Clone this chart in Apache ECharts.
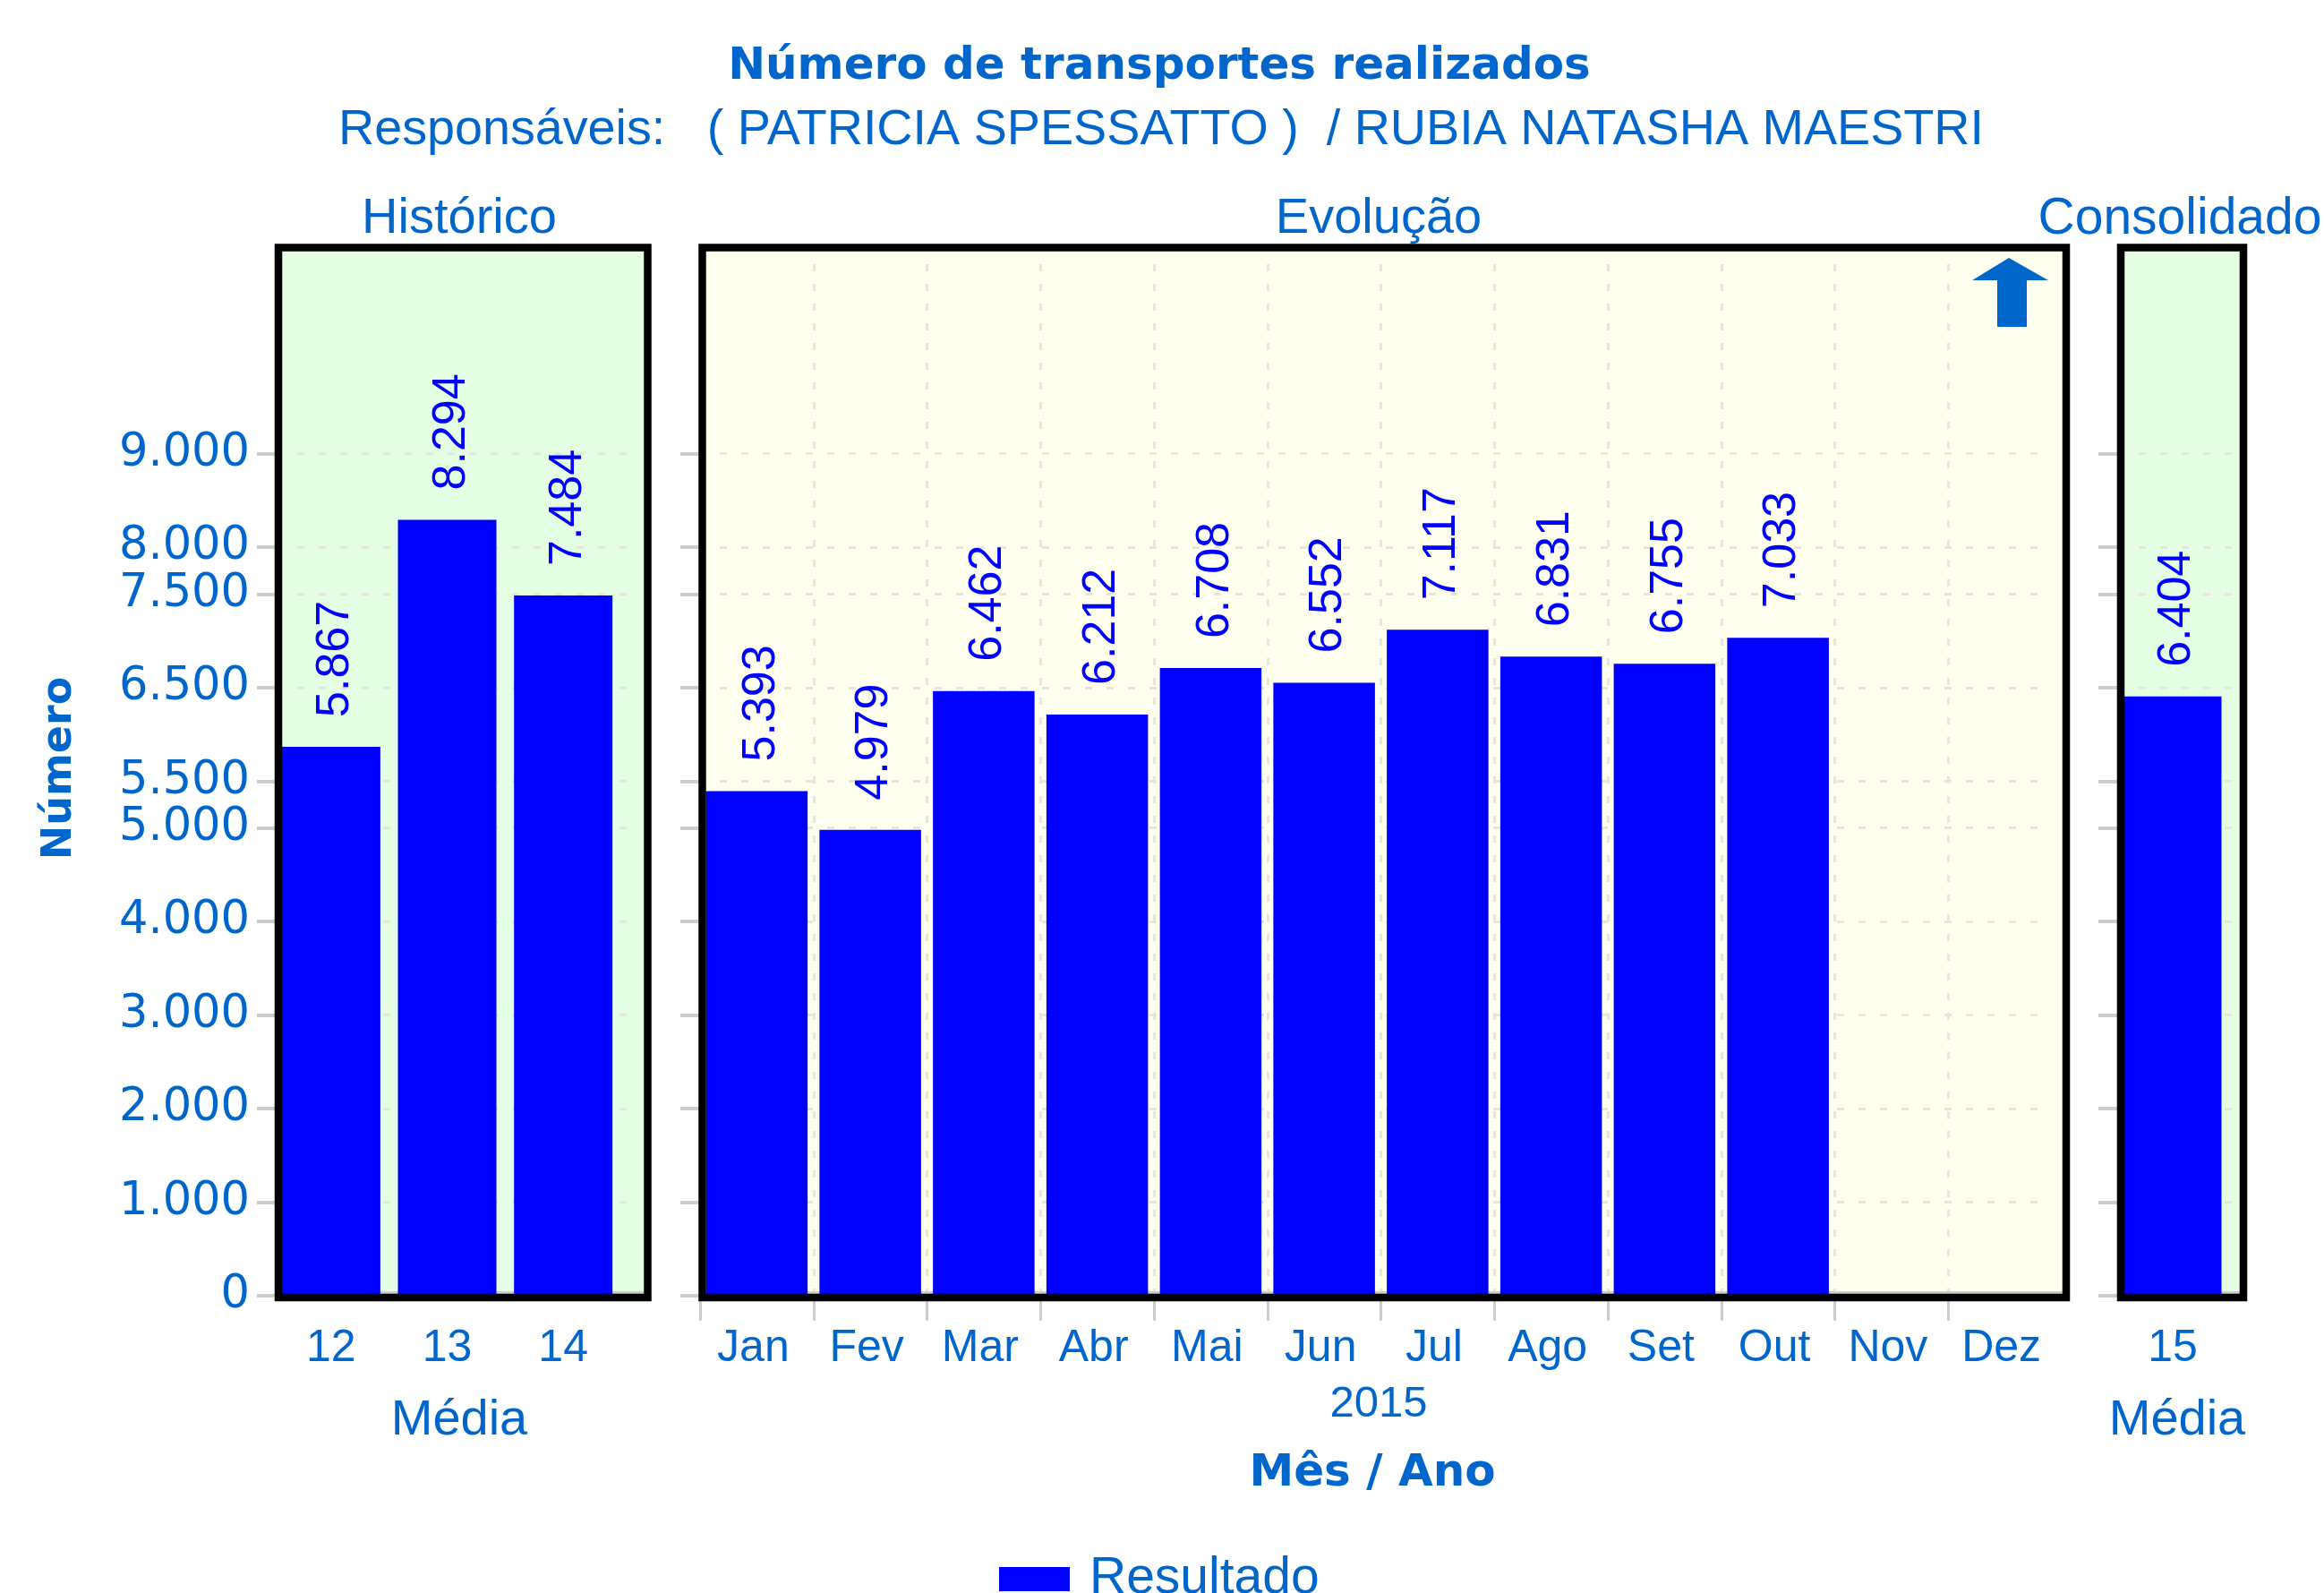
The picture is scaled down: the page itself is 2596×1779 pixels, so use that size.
<!DOCTYPE html>
<html>
<head>
<meta charset="utf-8">
<title>Número de transportes realizados</title>
<script src="https://cdn.jsdelivr.net/npm/echarts@6/dist/echarts.min.js"></script>
<style>
    html, body { margin: 0; padding: 0; background: #fff; }
    #chart { width: 2596px; height: 1779px; }
</style>
</head>
<body>
<div id="chart"></div>
<script>
    // valores
    const histCategories = ['12', '13', '14'];
    const histValues = [5867, 8294, 7484];
    const monthCategories = ['Jan', 'Fev', 'Mar', 'Abr', 'Mai', 'Jun', 'Jul', 'Ago', 'Set', 'Out', 'Nov', 'Dez'];
    const monthValues = [5393, 4979, 6462, 6212, 6708, 6552, 7117, 6831, 6755, 7033, null, null];
    const consCategories = ['15'];
    const consValues = [6404];
    const yTicks = [0, 1000, 2000, 3000, 4000, 5000, 5500, 6500, 7500, 8000, 9000];

    const BLUE = '#0066CC';
    const BAR = '#0000FF';
    const SANS = '"Liberation Sans", Arial, sans-serif';
    const WIDE = '"DejaVu Sans", sans-serif';
    const TOP = 295, ZERO = 1446.7, Y_MAX = 11027;
    const W = 2596, H = 1779;

    // painéis: grade principal, linhas tracejadas e moldura
    const panels = [
        { left: 305, right: 694, lineL: 332, lineR: 703, frameL: 311, frameR: 723.5, bg: '#E5FFE5', tick: 21, off: -3, barW: 110, cats: histCategories, vals: histValues },
        { left: 782, right: 2303, lineL: 804, lineR: 2291, frameL: 784.5, frameR: 2308, bg: '#FFFFF0', tick: 22, off: 0, barW: 113.5, cats: monthCategories, vals: monthValues },
        { left: 2365, right: 2489, lineL: 2389, lineR: 2495, frameL: 2369, frameR: 2506, bg: '#E5FFE5', tick: 21, off: 0, barW: 109, cats: consCategories, vals: consValues }
    ];

    function fmt(v) {
        return String(v).replace(/\B(?=(\d{3})+$)/g, '.');
    }

    function label(text, x, y, size, font, bold) {
        return {
            text: text, left: x, top: y, textAlign: 'center', textVerticalAlign: 'middle',
            textStyle: { color: BLUE, fontFamily: font, fontSize: size, fontWeight: bold ? 'bold' : 'normal' }
        };
    }

    let grids = [], xAxes = [], yAxes = [], series = [], shapes = [];

    panels.forEach((p, i) => {
        grids.push({ left: p.left, width: p.right - p.left, top: TOP, height: ZERO - TOP });
        xAxes.push({
            type: 'category', gridIndex: i, data: p.cats,
            axisLine: { show: false },
            axisTick: { show: i == 1, length: 28, lineStyle: { color: '#CCCCCC', width: 3 } },
            axisLabel: {
                color: BLUE, fontFamily: SANS, fontSize: 50, margin: 35, interval: 0,
                padding: i == 1 ? [0, 8, 0, 0] : 0
            },
            splitLine: { show: i == 1, interval: 0, showMaxLine: false, lineStyle: { color: '#E6E6DC', width: 3, type: [8, 14] } }
        });
        yAxes.push({
            type: 'value', gridIndex: i, min: 0, max: Y_MAX, offset: p.off,
            axisLine: { show: false },
            axisTick: { show: true, length: p.tick, customValues: yTicks, lineStyle: { color: '#CCCCCC', width: 4 } },
            axisLabel: {
                show: i == 0, customValues: yTicks, formatter: fmt, margin: 29, padding: [4, 0, 0, 0],
                color: BLUE, fontFamily: WIDE, fontSize: 51
            },
            splitLine: { show: false }
        });
        series.push({
            name: 'Resultado', type: 'bar', xAxisIndex: i, yAxisIndex: i, data: p.vals, barWidth: p.barW,
            itemStyle: { color: BAR },
            label: {
                show: true, position: 'top', rotate: 90, align: 'left', verticalAlign: 'middle', distance: 33,
                offset: [0, 5], color: BAR, fontFamily: SANS, fontSize: 52, formatter: (o) => fmt(o.value)
            }
        });

        // fundo, linha cinza junto da base e moldura
        shapes.push({
            type: 'rect', z: -1, silent: true,
            shape: { x: p.frameL, y: 276.5, width: p.frameR - p.frameL, height: 1172.5 },
            style: { fill: p.bg }
        });
        shapes.push({
            type: 'rect', z: 1, silent: true,
            shape: { x: p.frameL, y: 1442, width: p.frameR - p.frameL, height: 4 },
            style: { fill: '#CCCCCC' }
        });
        shapes.push({
            type: 'rect', z: 10, silent: true,
            shape: { x: p.frameL, y: 276.5, width: p.frameR - p.frameL, height: 1172.5 },
            style: { fill: 'none', stroke: '#000', lineWidth: 8.5 }
        });
    });

    // linhas horizontais tracejadas, mais curtas que o eixo
    panels.forEach((p, i) => {
        let idx = panels.length + i;
        grids.push({ left: p.lineL, width: p.lineR - p.lineL, top: TOP, height: ZERO - TOP });
        xAxes.push({ type: 'category', gridIndex: idx, show: false, data: p.cats });
        yAxes.push({
            type: 'value', gridIndex: idx, min: 0, max: Y_MAX,
            axisLine: { show: false },
            axisLabel: { show: false },
            axisTick: { show: false, customValues: yTicks },
            splitLine: { show: true, lineStyle: { color: '#E6E6DC', width: 3, type: [8, 16] } }
        });
    });

    // o gráfico original não tem a última marca do eixo de meses
    shapes.push({
        type: 'rect', z: 9, silent: true,
        shape: { x: 2298, y: 1453, width: 10, height: 26 },
        style: { fill: '#fff' }
    });
    // seta de tendência
    shapes.push({
        type: 'polygon', z: 11, silent: true,
        shape: { points: [[2244, 288], [2288, 313], [2264, 313], [2264, 365], [2231, 365], [2231, 313], [2203, 313]] },
        style: { fill: BLUE }
    });
    shapes.push({
        type: 'text', z: 11, silent: true, x: 67, y: 858, rotation: Math.PI / 2,
        style: { text: 'Número', fill: BLUE, font: 'bold 46px ' + WIDE, align: 'center', verticalAlign: 'middle' }
    });

    let chart = echarts.init(document.getElementById('chart'), null, { width: W, height: H });
    chart.setOption({
        animation: false,
        backgroundColor: '#fff',
        title: [
            label('Número de transportes realizados', 1290, 70, 50, WIDE, true),
            label('Responsáveis:   ( PATRICIA SPESSATTO )  / RUBIA NATASHA MAESTRI', 1292, 141, 55.7, SANS),
            label('Histórico', 508, 240, 56, SANS),
            label('Evolução', 1535, 240, 56, SANS),
            label('Consolidado', 2430, 240, 57, SANS),
            label('Média', 508, 1582, 56, SANS),
            label('2015', 1535, 1563, 49, SANS),
            label('Média', 2427, 1582, 56, SANS),
            label('Mês / Ano', 1528, 1641, 50, WIDE, true)
        ],
        legend: {
            data: ['Resultado'], left: 1111, top: 1730, icon: 'rect', itemWidth: 79, itemHeight: 27, itemGap: 22,
            textStyle: { color: BLUE, fontFamily: SANS, fontSize: 57, padding: [0, 0, 0, 17] }
        },
        grid: grids,
        xAxis: xAxes,
        yAxis: yAxes,
        series: series,
        graphic: { elements: shapes }
    });
    window.addEventListener('resize', function () {
        chart.resize();
    });
</script>
</body>
</html>
